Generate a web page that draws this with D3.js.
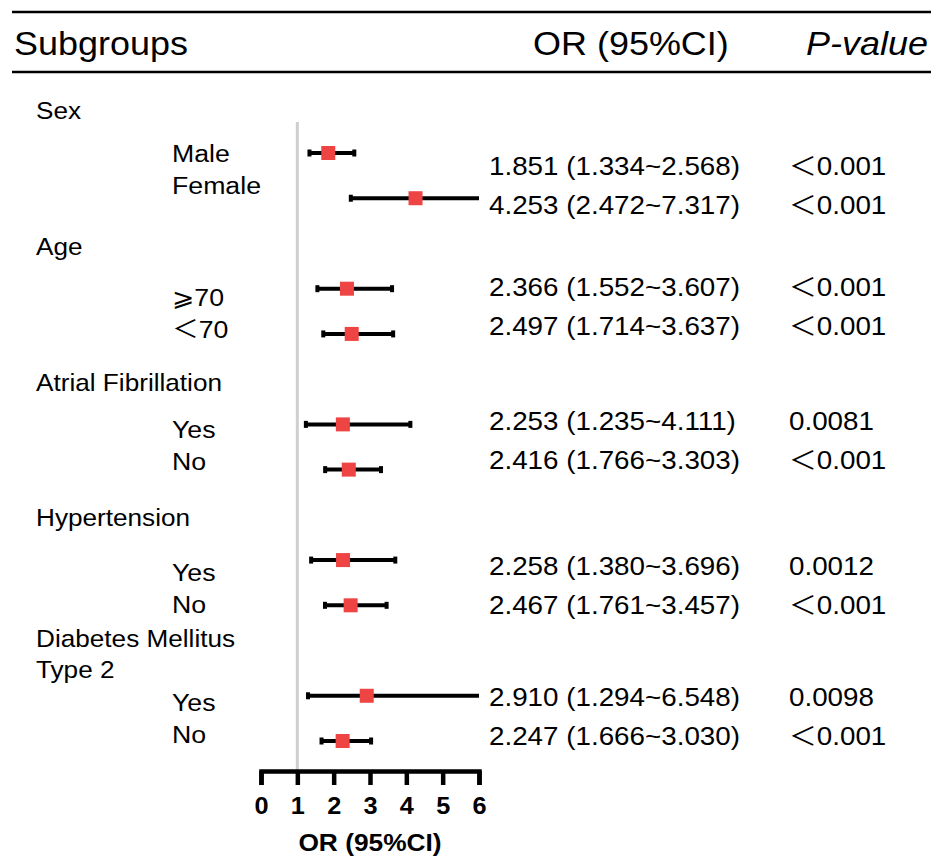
<!DOCTYPE html>
<html>
<head>
<meta charset="utf-8">
<script src="https://cdn.jsdelivr.net/npm/d3@7"></script>
<style>
  body { margin: 0; background: #fff; }
  text { font-family: "Liberation Sans", Arial, "Noto Sans CJK SC", "DejaVu Sans", sans-serif; fill: #000; }
</style>
</head>
<body>
<svg id="svgElement" width="931" height="865"></svg>
<script>
const groups = [["Sex"], ["Age"], ["Atrial Fibrillation"], ["Hypertension"], ["Diabetes Mellitus", "Type 2"]];
const subgroups = ["Male", "Female", "⩾70", "＜70", "Yes", "No", "Yes", "No", "Yes", "No"];
const orValues = [1.851, 4.253, 2.366, 2.497, 2.253, 2.416, 2.258, 2.467, 2.910, 2.247];
const lowerCI = [1.334, 2.472, 1.552, 1.714, 1.235, 1.766, 1.380, 1.761, 1.294, 1.666];
const upperCI = [2.568, 7.317, 3.607, 3.637, 4.111, 3.303, 3.696, 3.457, 6.548, 3.030];
const pValues = ["＜0.001", "＜0.001", "＜0.001", "＜0.001", "0.0081", "＜0.001", "0.0012", "＜0.001", "0.0098", "＜0.001"];
const xTicks = [0, 1, 2, 3, 4, 5, 6];

// small per-group nudges so the text columns sit like the original figure
const subNudge = [-6.6, 1.8, -1.8, 5.6, -0.5];
const textNudge = [9.4, -5.2, -6.8, 3.1, -2];

const svg = d3.select("#svgElement");
const stretch = 1.09;

const x = d3.scaleLinear().domain([0, 6]).range([261, 479]);
// each group takes 3 slots: two rows and a gap for the group title
const y = d3.scaleLinear().domain([0, 13]).range([153, 741]);
const slot = (i) => Math.floor(i / 2) * 3 + (i % 2);

const addText = (sel, tx, ty, str, size, opts = {}) => {
  return sel
    .append("text")
    .attr("transform", `translate(${tx},${ty}) scale(${opts.sx || stretch},1)`)
    .attr("dy", "0.36em")
    .attr("font-size", size)
    .attr("font-weight", opts.bold ? "bold" : null)
    .attr("font-style", opts.italic ? "italic" : null)
    .attr("text-anchor", opts.anchor || "start")
    .text(str);
};

const createHeader = () => {
  svg.append("line").attr("x1", 12).attr("x2", 931).attr("y1", 12).attr("y2", 12)
    .attr("stroke", "black").attr("stroke-width", 2.5);
  svg.append("line").attr("x1", 12).attr("x2", 931).attr("y1", 72).attr("y2", 72)
    .attr("stroke", "black").attr("stroke-width", 2.5);
  addText(svg, 14, 43, "Subgroups", 33);
  addText(svg, 533, 43, "OR (95%CI)", 33);
  addText(svg, 928, 43, "P-value", 33, { italic: true, anchor: "end" });
};

const createLabels = () => {
  groups.forEach((lines, g) => {
    const cy = y(g * 3 - 1) + 3;
    lines.forEach((ln, k) => {
      const off = (k - (lines.length - 1) / 2) * 31;
      addText(svg, 36, cy + off, ln, 24);
    });
  });

  subgroups.forEach((s, i) => {
    const g = Math.floor(i / 2);
    const mid = y(g * 3 + 0.5) + subNudge[g];
    addText(svg, 172, mid + (i % 2 === 0 ? -16 : 16), s, 24.5);
  });

  const fmt = d3.format(".3f");
  orValues.forEach((v, i) => {
    const g = Math.floor(i / 2);
    const mid = y(g * 3 + 0.5) + textNudge[g];
    const ty = mid + (i % 2 === 0 ? -19.5 : 19.5);
    addText(svg, 489, ty, `${fmt(v)} (${fmt(lowerCI[i])}~${fmt(upperCI[i])})`, 25.5);
    addText(svg, 789, ty, pValues[i], 25.5);
  });
};

const createPlot = () => {
  // reference line at OR = 1
  svg.append("line")
    .attr("x1", x(1)).attr("x2", x(1))
    .attr("y1", 122).attr("y2", 770)
    .attr("stroke", "#cfcfcf").attr("stroke-width", 3);

  const rows = orValues.map((v, i) => ({ v, lo: lowerCI[i], hi: upperCI[i], cy: y(slot(i)) }));
  const [dMin, dMax] = x.domain();

  svg.selectAll(".ci").data(rows).join("line")
    .attr("class", "ci")
    .attr("x1", (d) => x(Math.max(d.lo, dMin)))
    .attr("x2", (d) => x(Math.min(d.hi, dMax)))
    .attr("y1", (d) => d.cy).attr("y2", (d) => d.cy)
    .attr("stroke", "black").attr("stroke-width", 4);

  const caps = [];
  rows.forEach((d) => {
    if (d.lo >= dMin) caps.push({ xv: d.lo, cy: d.cy });
    if (d.hi <= dMax) caps.push({ xv: d.hi, cy: d.cy });
  });
  svg.selectAll(".cap").data(caps).join("rect")
    .attr("class", "cap")
    .attr("x", (d) => x(d.xv) - 2).attr("y", (d) => d.cy - 3.5)
    .attr("width", 4).attr("height", 7)
    .attr("fill", "black");

  svg.selectAll(".pt").data(rows).join("rect")
    .attr("class", "pt")
    .attr("x", (d) => x(d.v) - 7).attr("y", (d) => d.cy - 7)
    .attr("width", 14).attr("height", 14)
    .attr("fill", "#ef4444");
};

const createAxis = () => {
  const axis = d3.axisBottom(x)
    .tickValues(xTicks)
    .tickFormat(d3.format("d"))
    .tickSizeInner(14)
    .tickSizeOuter(14)
    .tickPadding(13);

  const g = svg.append("g").attr("transform", "translate(0,771)").call(axis);
  g.select(".domain").attr("stroke", "black").attr("stroke-width", 4.5).attr("fill", "none");
  g.selectAll(".tick line").attr("stroke", "black").attr("stroke-width", 4.5);
  g.selectAll(".tick text")
    .attr("font-family", null)
    .attr("font-size", 23)
    .attr("font-weight", "bold")
    .attr("transform", "scale(1.1,1)");

  addText(svg, x(3), 843, "OR (95%CI)", 23.5, { bold: true, anchor: "middle", sx: 1.12 });
};

createHeader();
createLabels();
createPlot();
createAxis();
</script>
</body>
</html>
